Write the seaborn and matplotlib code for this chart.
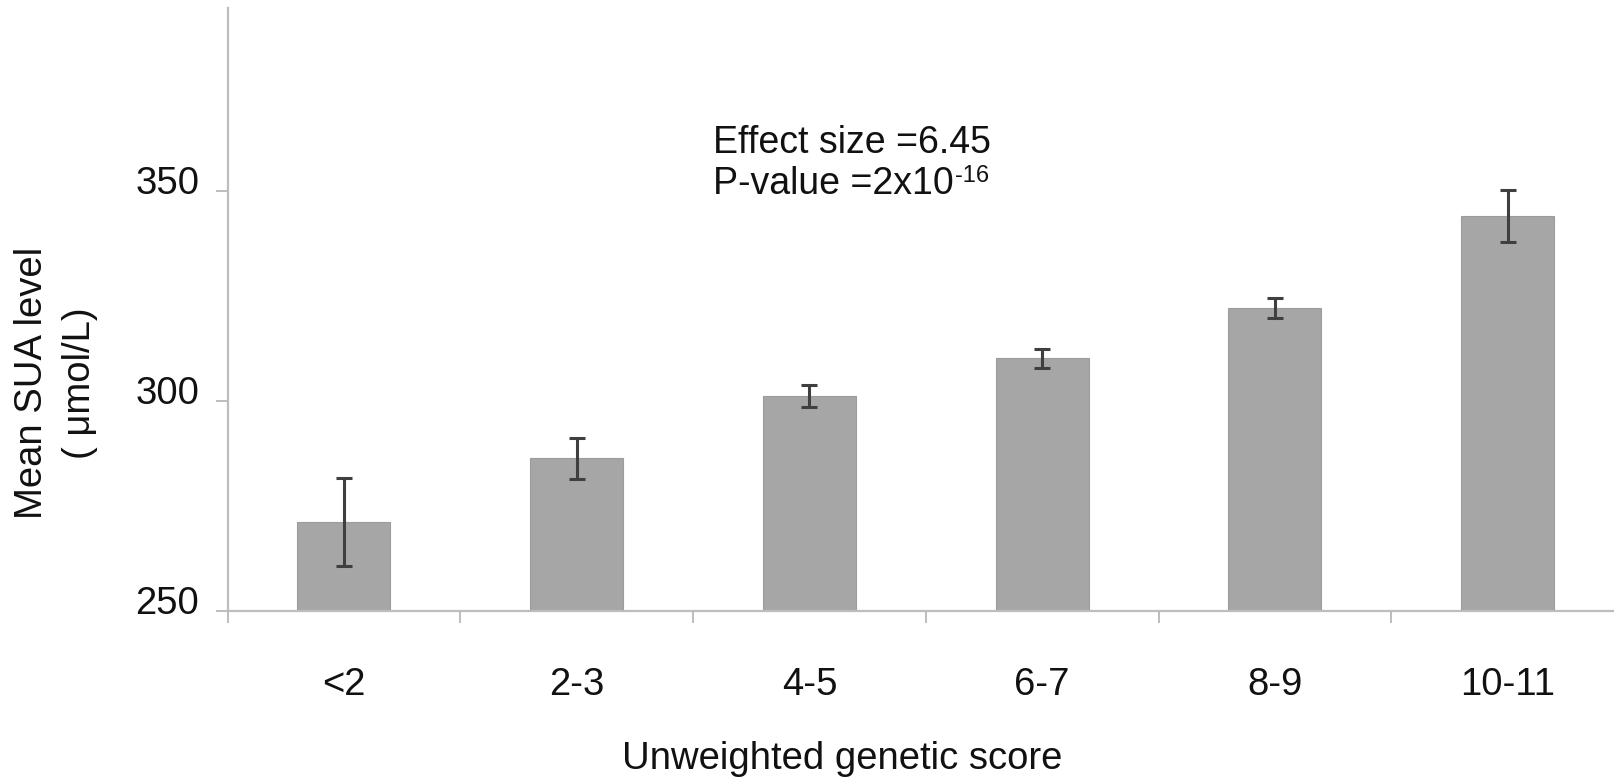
"""
Mean SUA level by unweighted genetic score (bar chart with error bars).
"""

import numpy as np
import pandas as pd
import matplotlib
matplotlib.use('Agg')
import matplotlib.pyplot as plt
import matplotlib.transforms as mtransforms
import seaborn as sns

# ── Data ─────────────────────────────────────────────────────
CATEGORIES = ['<2', '2-3', '4-5', '6-7', '8-9', '10-11']
MEANS      = [271.2, 286.3, 301.2, 310.1, 322.1, 344.0]
ERRORS     = [10.5, 4.8, 2.6, 2.2, 2.3, 6.2]
Y_TICKS    = [250, 300, 350]

BAR_COLOR  = '#a6a6a6'
AXIS_COLOR = '#bdbdbd'
ERR_COLOR  = '#3f3f3f'
TEXT_COLOR = '#111111'
FS         = 27.5

sns.set_style('white')
plt.rcParams['font.family'] = ['Liberation Sans', 'DejaVu Sans']

df = pd.DataFrame({'score': CATEGORIES, 'sua': MEANS})

fig = plt.figure(figsize=(16.14, 7.83), dpi=100)
ax = fig.add_axes([0.1410, 0.2197, 0.8652, 0.7701])

sns.barplot(data=df, x='score', y='sua', order=CATEGORIES,
            color=BAR_COLOR, saturation=1, width=0.4,
            edgecolor='#9c9c9c', linewidth=0.8, errorbar=None, ax=ax)

ax.errorbar(np.arange(len(CATEGORIES)), MEANS, yerr=ERRORS, fmt='none',
            ecolor=ERR_COLOR, elinewidth=2.2, capsize=5.5, capthick=2.2,
            zorder=4)

ax.set_ylim(250, 393.5)
ax.set_xlim(-0.5, 5.5)
ax.set_yticks(Y_TICKS)

# category labels centred, tick marks between categories
ax.set_xticks(np.arange(len(CATEGORIES)))
ax.set_xticklabels(CATEGORIES)
ax.set_xticks(np.arange(-0.5, len(CATEGORIES)), minor=True)
ax.tick_params(axis='x', which='major', length=0, pad=40,
               labelsize=FS, labelcolor=TEXT_COLOR)
ax.tick_params(axis='x', which='minor', length=8.5, width=1.4,
               color=AXIS_COLOR, direction='out', bottom=True)
ax.tick_params(axis='y', which='major', length=8.5, width=1.4,
               color=AXIS_COLOR, direction='out', left=True, pad=12,
               labelsize=FS, labelcolor=TEXT_COLOR)

# y labels sit a little above their ticks
offset = mtransforms.ScaledTranslation(0, 0.11, fig.dpi_scale_trans)
for lbl in ax.get_yticklabels():
    lbl.set_transform(lbl.get_transform() + offset)

for side in ['top', 'right']:
    ax.spines[side].set_visible(False)
for side in ['left', 'bottom']:
    ax.spines[side].set_color(AXIS_COLOR)
    ax.spines[side].set_linewidth(1.6)

ax.set_xlabel('')
ax.set_ylabel('')
fig.text(842 / 1614, 1 - 759 / 783, 'Unweighted genetic score',
         ha='center', va='center', fontsize=FS, color=TEXT_COLOR)
fig.text(32 / 1614, 1 - 383 / 783, 'Mean SUA level', rotation=90,
         ha='center', va='center', fontsize=FS, color=TEXT_COLOR)
fig.text(80 / 1614, 1 - 383 / 783, '( μmol/L)', rotation=90,
         ha='center', va='center', fontsize=FS, color=TEXT_COLOR)

# annotation
fig.text(713 / 1614, 1 - 153 / 783, 'Effect size =6.45',
         ha='left', va='baseline', fontsize=27, color=TEXT_COLOR)
pval = fig.text(713 / 1614, 1 - 194 / 783, 'P-value =2x10',
                ha='left', va='baseline', fontsize=27, color=TEXT_COLOR)
ax.annotate('-16', xy=(1, 1), xycoords=pval, xytext=(1, 1),
            textcoords='offset points', ha='left', va='top',
            fontsize=17, color=TEXT_COLOR)

plt.savefig('out.png', dpi=100)
plt.close()
